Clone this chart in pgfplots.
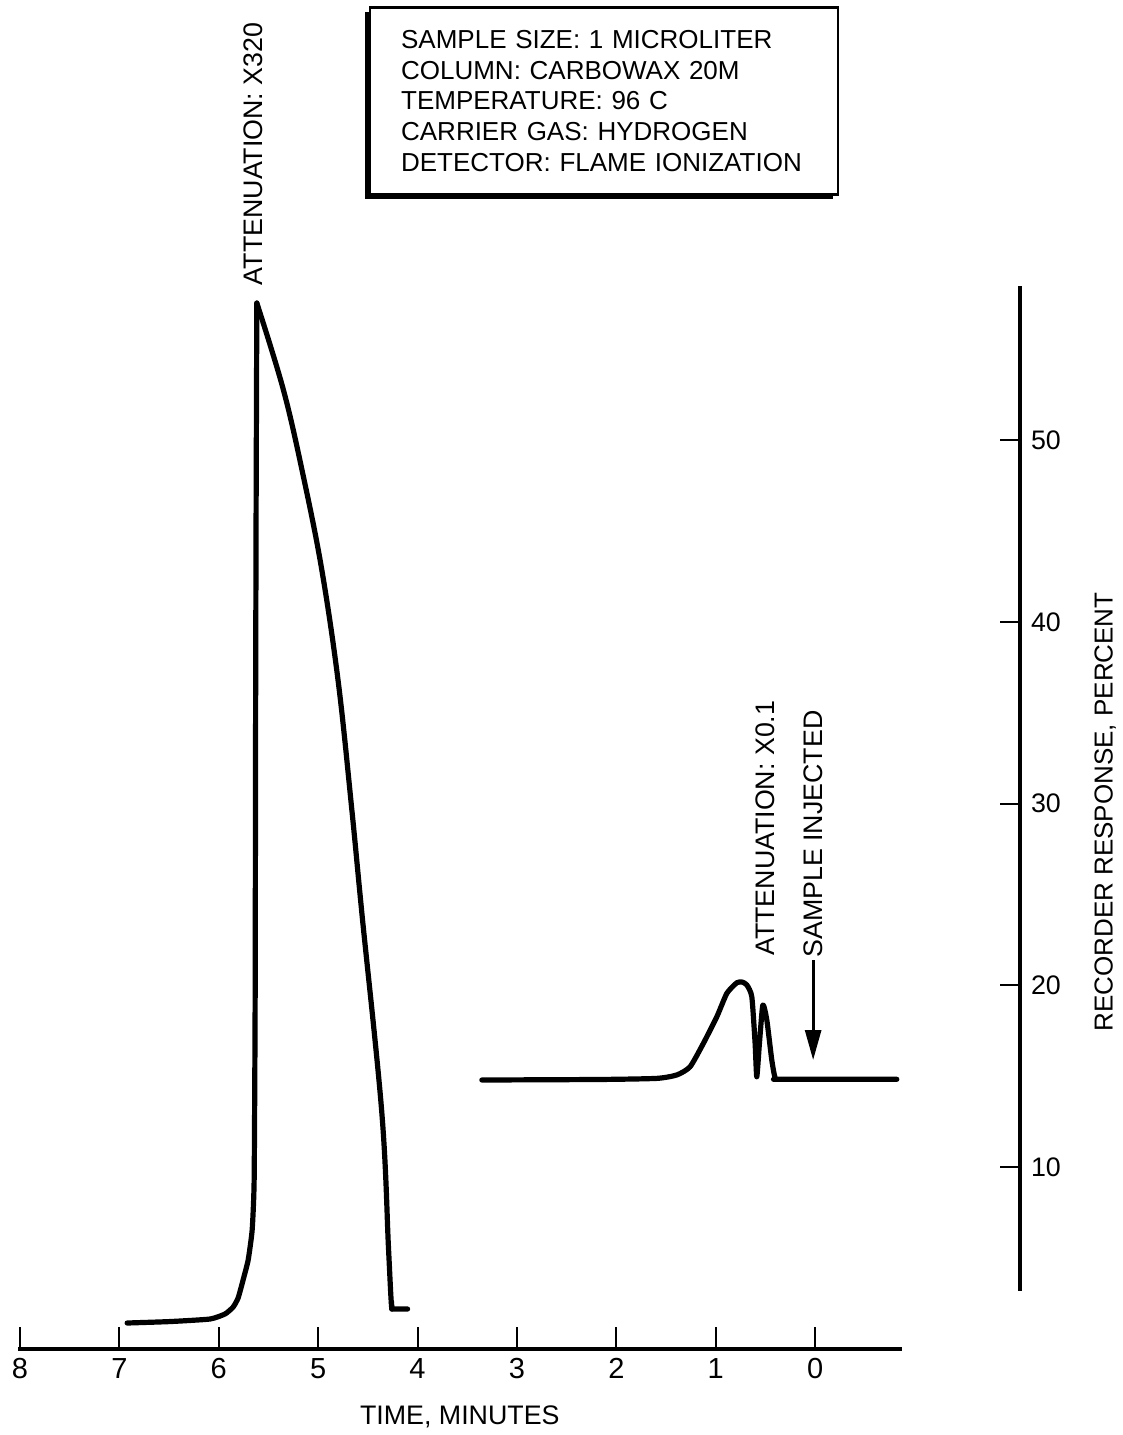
\documentclass[border=0pt]{standalone}
\usepackage{fontspec}
\setmainfont{Liberation Sans}
\usepackage{pgfplots}
\pgfplotsset{compat=1.18}
\usetikzlibrary{shadows,arrows.meta}
\newcommand{\lf}{\fontsize{13.4}{15.4}\selectfont}
\newcommand{\boxf}{\fontsize{13}{15.4}\selectfont}
\newcommand{\tf}{\fontsize{14.5}{16}\selectfont}
\begin{document}
\begin{tikzpicture}
\begin{axis}[
  at={(0,0)}, anchor=south west,
  scale only axis, width=441.8pt, height=531.6pt,
  x dir=reverse, xmin=-0.87, xmax=8.02, ymin=0, ymax=58.5,
  axis x line=bottom, axis y line=none,
  x axis line style={-, line width=2pt},
  xtick={0,...,8}, tick align=inside, major tick length=11pt,
  major tick style={line width=1pt, black},
  /pgf/number format/assume math mode=true,
  xticklabel style={font=\tf, yshift=-1pt},
  xlabel={TIME, MINUTES},
  xlabel style={font=\lf, at={(axis description cs:0.5,0)}, anchor=north, yshift=-25pt},
  clip=false,
]
% main peak: rise
\addplot[black, line width=2.6pt, line join=round, line cap=round, smooth, tension=0.3] coordinates {
(6.922,1.43) (6.489,1.51) (6.087,1.65) (5.936,1.93) (5.855,2.31) (5.805,2.81)
(5.755,3.80) (5.704,4.90) (5.664,6.55) (5.644,9.30) (5.634,19.20) (5.629,35.71)
(5.624,46.71) (5.617,57.55)
};
% main peak: fall
\addplot[black, line width=2.6pt, line join=round, line cap=round, smooth, tension=0.6] coordinates {
(5.617,57.55) (5.349,52.76) (5.148,47.99) (4.963,42.86) (4.796,36.63) (4.661,29.66)
(4.560,23.97) (4.359,12.97) (4.293,5.63) (4.269,2.97) (4.259,2.2)
};
\addplot[black, line width=2.6pt, line join=round, line cap=round] coordinates {
(4.262,2.6) (4.259,2.2) (4.100,2.2)
};
% small peaks
\addplot[black, line width=2.6pt, line join=round, line cap=round, smooth, tension=0.35] coordinates {
(3.353,14.80) (2.163,14.83) (1.593,14.89) (1.391,15.08) (1.258,15.53) (1.124,16.82)
(0.989,18.28) (0.888,19.57) (0.788,20.15) (0.734,20.19) (0.687,20.03) (0.637,19.38)
(0.604,16.84) (0.587,14.98) (0.560,16.84) (0.526,18.93) (0.486,18.10) (0.436,15.90)
(0.402,14.91) (0.352,14.84) (-0.822,14.84)
};
\draw[line width=1.4pt, -{Triangle[length=15pt, width=8pt]}] (axis cs:0.02,21.4) -- (axis cs:0.02,15.9);
\node[rotate=90, anchor=west, font=\lf, inner sep=1pt] at (axis cs:5.65,58.4) {ATTENUATION: X320};
\node[rotate=90, anchor=west, font=\lf, inner sep=1pt] at (axis cs:0.505,21.5) {ATTENUATION: X0.1};
\node[rotate=90, anchor=west, font=\lf, inner sep=1pt] at (axis cs:0.02,21.4) {SAMPLE INJECTED};
\node[rotate=90, font=\fontsize{13}{15}\selectfont] at (axis cs:-2.918,29.55) {RECORDER RESPONSE, PERCENT};
\node[draw, line width=1.2pt, fill=white, align=left, text width=203pt, inner xsep=15.5pt,
      minimum height=93.5pt, font=\boxf,
      drop shadow={shadow xshift=-2.5pt, shadow yshift=-2.5pt, opacity=1, fill=black}]
  at (axis cs:2.123,68.67) {SAMPLE SIZE: 1 MICROLITER\\COLUMN: CARBOWAX 20M\\TEMPERATURE: 96 C\\CARRIER GAS: HYDROGEN\\DETECTOR: FLAME IONIZATION};
\end{axis}
\begin{axis}[
  at={(501pt,29.1pt)}, anchor=south east,
  scale only axis, width=20pt, height=502.5pt,
  xmin=0, xmax=1, ymin=3.2, ymax=58.5,
  axis y line=right, axis x line=none,
  y axis line style={-, line width=2pt},
  ytick={10,20,30,40,50}, tick align=inside, major tick length=10pt,
  major tick style={line width=1pt, black},
  /pgf/number format/assume math mode=true,
  yticklabel style={font=\lf, xshift=2pt},
]
\end{axis}
\path (-9pt,-43pt) rectangle (552.5pt,674.5pt);
\end{tikzpicture}
\end{document}
